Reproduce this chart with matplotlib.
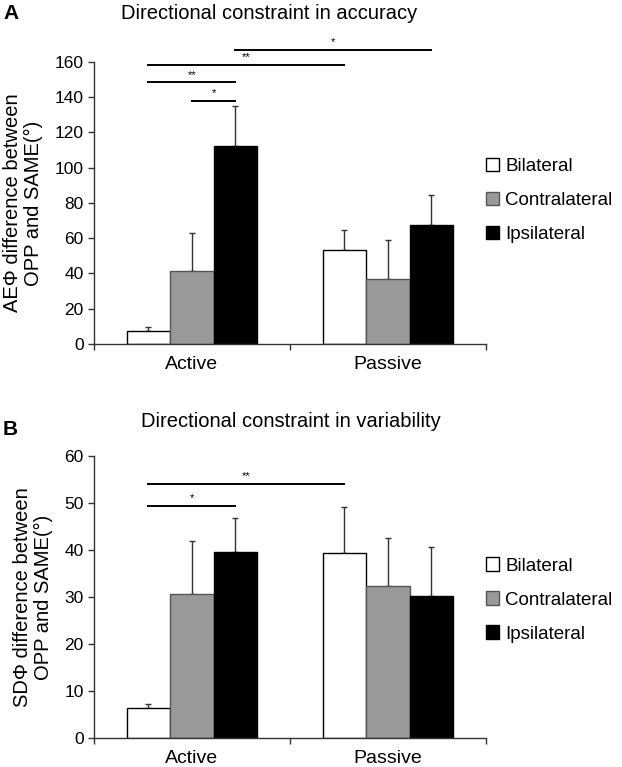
import numpy as np
import matplotlib
matplotlib.use("Agg")
import matplotlib.pyplot as plt

plt.rcParams['font.family'] = ['Liberation Sans', 'DejaVu Sans']

# data
groups = ["Active", "Passive"]
conditions = ["Bilateral", "Contralateral", "Ipsilateral"]
colors = ["white", "#999999", "black"]
edges = ["black", "#555555", "black"]

# panel A: accuracy
acc_mean = [[7.4, 53.1], [41.4, 36.8], [112.3, 67.7]]
acc_err = [[2.0, 11.4], [21.6, 22.0], [22.7, 17.0]]
# (group, cond) -> (group, cond), height, label
acc_sig = [((0, 2), (1, 2), 166.8, "*"),
           ((0, 0), (1, 0), 158.3, "**"),
           ((0, 0), (0, 2), 148.5, "**"),
           ((0, 1), (0, 2), 137.9, "*")]

# panel B: variability
var_mean = [[6.4, 39.4], [30.6, 32.3], [39.7, 30.2]]
var_err = [[0.9, 9.8], [11.3, 10.2], [7.1, 10.5]]
var_sig = [((0, 0), (1, 0), 54.0, "**"),
           ((0, 0), (0, 2), 49.4, "*")]

W = 0.222
centers = np.array([0.5, 1.5])


def xpos(g, c):
    return centers[g] + (c - 1) * W


def draw(ax, means, errs, sig, ymax, ystep, ylabel, star_off, leg_y):
    for c in range(3):
        x = centers + (c - 1) * W
        ax.bar(x, means[c], W, color=colors[c], edgecolor=edges[c],
               linewidth=1.0, label=conditions[c], zorder=2)
        ax.errorbar(x, means[c], yerr=[np.zeros(2), errs[c]], fmt="none",
                    ecolor="#333333", elinewidth=1.0, capsize=2.5,
                    capthick=1.0, zorder=1)
    for a, b, h, lab in sig:
        x1, x2 = xpos(*a), xpos(*b)
        ax.plot([x1, x2], [h, h], color="black", lw=1.4, clip_on=False)
        ax.text((x1 + x2) / 2, h + star_off, lab, ha="center", va="bottom",
                fontsize=8, clip_on=False)
    ax.set_xlim(0, 2)
    ax.set_ylim(0, ymax)
    ax.set_yticks(np.arange(0, ymax + 1, ystep))
    ax.set_xticks([0, 1, 2])
    ax.set_xticklabels([])
    for g in range(2):
        ax.text(centers[g], -0.042 * ymax, groups[g], ha="center", va="top",
                fontsize=14)
    ax.spines["top"].set_visible(False)
    ax.spines["right"].set_visible(False)
    for s in ["left", "bottom"]:
        ax.spines[s].set_color("#333333")
        ax.spines[s].set_linewidth(1.0)
    ax.tick_params(axis="both", direction="out", length=4, width=1,
                   color="#333333", labelsize=12.5)
    ax.set_ylabel(ylabel, fontsize=14.5, linespacing=1.15, labelpad=8)
    ax.legend(loc="center left", bbox_to_anchor=(1.0, leg_y), frameon=False,
              fontsize=13.5, handlelength=0.7, handleheight=0.7,
              labelspacing=0.9, handletextpad=0.35, borderaxespad=0.0,
              borderpad=0.0)


fig = plt.figure(figsize=(6.22, 7.67), dpi=100)
axA = fig.add_axes([0.151, 0.5515, 0.630, 0.3677])
axB = fig.add_axes([0.151, 0.0374, 0.630, 0.3680])

draw(axA, acc_mean, acc_err, acc_sig, 160, 20,
     "AE\u03a6 difference between\nOPP and SAME(\u00b0)", 1.5, 0.51)
draw(axB, var_mean, var_err, var_sig, 60, 10,
     "SD\u03a6 difference between\nOPP and SAME(\u00b0)", 0.6, 0.49)

fig.text(0.432, 0.982, "Directional constraint in accuracy", ha="center",
         va="center", fontsize=14.5)
fig.text(0.467, 0.45, "Directional constraint in variability", ha="center",
         va="center", fontsize=14.5)
fig.text(0.005, 0.982, "A", fontsize=15, fontweight="bold", va="center")
fig.text(0.005, 0.44, "B", fontsize=15, fontweight="bold", va="center")

fig.savefig("out.png", dpi=100)
